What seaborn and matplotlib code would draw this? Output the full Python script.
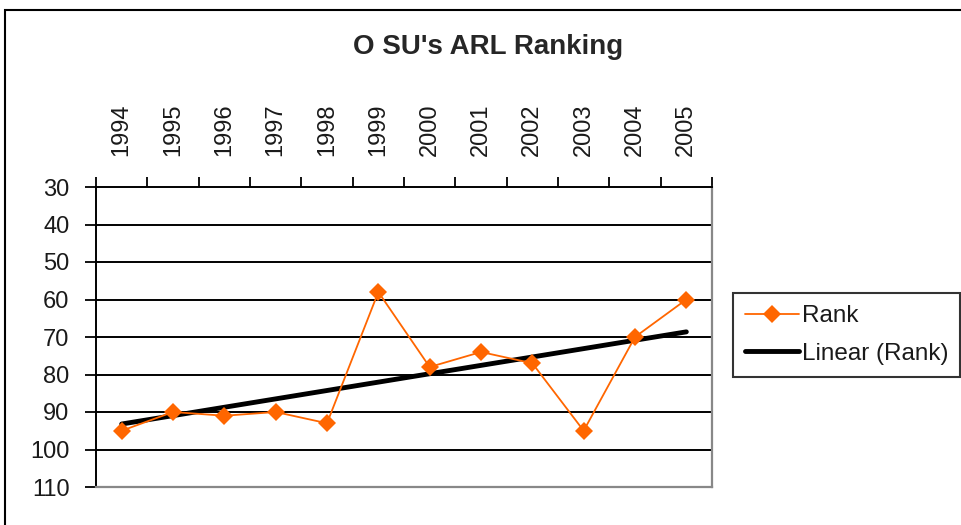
import numpy as np
import pandas as pd
import matplotlib
matplotlib.use("Agg")
import matplotlib.pyplot as plt
import seaborn as sns
from matplotlib.patches import Rectangle
from matplotlib.ticker import FixedLocator, NullFormatter

years = [1994, 1995, 1996, 1997, 1998, 1999, 2000, 2001, 2002, 2003, 2004, 2005]
rank = [95, 90, 91, 90, 93, 58, 78, 74, 77, 95, 70, 60]
y_ticks = [30, 40, 50, 60, 70, 80, 90, 100, 110]
title = "O SU's ARL Ranking"

sns.set_theme(style="white")
plt.rcParams['font.family'] = ['Liberation Sans', 'DejaVu Sans']

df = pd.DataFrame({"Year": years, "Rank": rank})
coef = np.polyfit(df["Year"], df["Rank"], 1)
df["Linear (Rank)"] = np.polyval(coef, df["Year"])

fig = plt.figure(figsize=(9.61, 5.25), dpi=100)
fig.patch.set_facecolor("white")
ax = fig.add_axes([96/961, 1-487/525, (712-96)/961, (487-187)/525])

sns.lineplot(data=df, x="Year", y="Rank", ax=ax, color="#FF6600", linewidth=1.3,
             marker="D", markersize=9, markeredgewidth=0, label="Rank", zorder=4)
sns.lineplot(data=df, x="Year", y="Linear (Rank)", ax=ax, color="black", linewidth=3.5,
             label="Linear (Rank)", zorder=3)

ax.set_xlim(years[0]-0.5, years[-1]+0.5)
ax.set_ylim(y_ticks[-1], y_ticks[0])
ax.set_yticks(y_ticks)
ax.set_yticklabels([str(v) for v in y_ticks], fontsize=17, color="#1a1a1a")
for v in y_ticks[1:-1]:
    ax.axhline(v, color="black", linewidth=1.4, zorder=1)

ax.xaxis.tick_top()
ax.xaxis.set_major_locator(FixedLocator([y - 0.5 for y in years] + [years[-1] + 0.5]))
ax.xaxis.set_major_formatter(NullFormatter())
ax.xaxis.set_minor_locator(FixedLocator(years))
ax.set_xticklabels([str(y) for y in years], minor=True, rotation=90, fontsize=17, color="#1a1a1a")
ax.tick_params(axis="x", which="major", direction="out", length=7, width=1.3, color="black", top=True, bottom=False)
ax.tick_params(axis="x", which="minor", length=0, pad=22, top=True, bottom=False)
ax.tick_params(axis="y", direction="out", length=8, width=1.3, color="black", left=True, pad=11)
ax.set_xlabel("")
ax.set_ylabel("")

for side in ["left", "top"]:
    ax.spines[side].set_color("black")
    ax.spines[side].set_linewidth(1.4)
for side in ["right", "bottom"]:
    ax.spines[side].set_visible(True)
    ax.spines[side].set_color("#888888")
    ax.spines[side].set_linewidth(1.6)

fig.text(488/961, 1-47/525, title, ha="center", va="center", fontsize=20, fontweight="bold")

handles, labels = ax.get_legend_handles_labels()
if ax.legend_:
    ax.legend_.remove()
leg = fig.legend(handles, labels, loc="upper left", bbox_to_anchor=(733/961, 1-293/525),
                 frameon=True, fancybox=False, edgecolor="black", fontsize=17.5,
                 handlelength=2.2, handletextpad=0.12, borderpad=0.5, labelspacing=0.65,
                 borderaxespad=0)
leg.get_frame().set_linewidth(1.5)
for t in leg.get_texts():
    t.set_color("#1a1a1a")

fig.patches.append(Rectangle((5/961, -0.1), 1.2, 1.1 - 10/525, transform=fig.transFigure,
                             fill=False, edgecolor="black", linewidth=1.5))

fig.savefig("out.png", dpi=100, facecolor="white")
